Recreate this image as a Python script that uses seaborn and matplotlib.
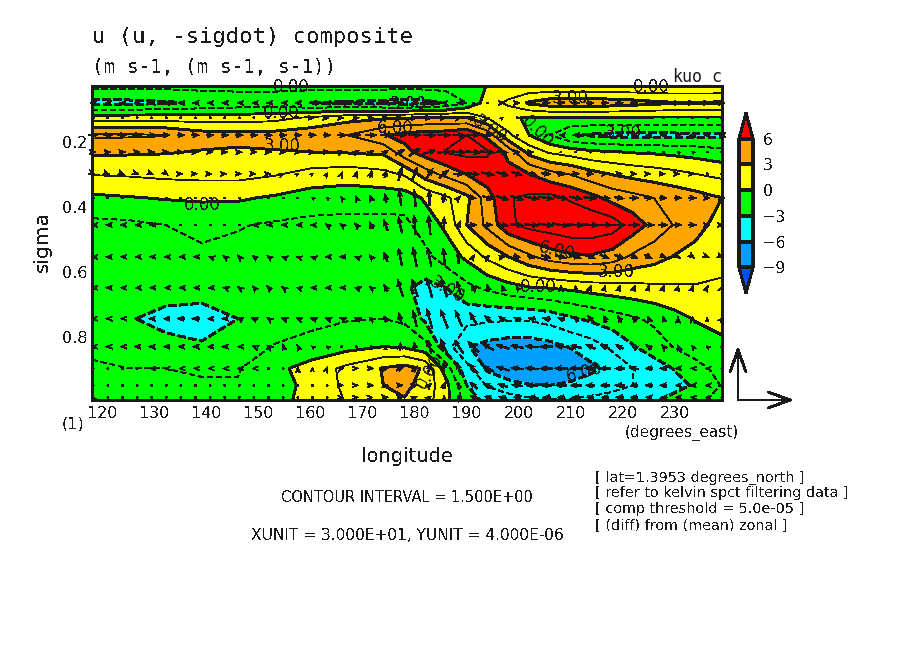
import numpy as np
import matplotlib
matplotlib.use("Agg")
import matplotlib.pyplot as plt
from matplotlib.ticker import MultipleLocator
import seaborn as sns

# contoured u (rows = sigma, columns = lon)
field_lon = [117.9, 125, 132, 139, 146, 153, 160, 167, 174, 178, 182, 186, 190,
             194, 198, 202, 206, 210, 214, 218, 222, 226, 230, 234, 239.1]
field_sigma = [0.028, 0.08, 0.126, 0.179, 0.231, 0.298, 0.372, 0.455, 0.553,
               0.648, 0.743, 0.829, 0.896, 0.948, 0.993]
field_u = [
    [-1.1, -1.1, -1.1, -1.0, -1.0, -1.0, -1.0, -1.0, -1.0, -1.0, -1.0, -0.9, -0.6, 0.05, 0.4, 0.3, 0.2, 0.2, 0.2, 0.2, 0.2, 0.2, 0.2, 0.2, 0.2],
    [-3.4, -3.4, -3.2, -2.8, -2.5, -2.5, -3.0, -3.2, -3.4, -3.5, -3.4, -2.9, -1.5, 0.8, 1.8, 3.2, 3.9, 4.0, 4.0, 3.8, 3.6, 3.3, 3.1, 3.1, 3.2],
    [0.8, 0.8, 0.8, 0.8, 0.8, 1.0, 1.8, 2.5, 2.8, 2.9, 3.1, 3.2, 3.1, 1.5, 0.3, -0.2, -0.2, -0.2, -0.2, -0.2, -0.2, -0.2, -0.2, -0.2, -0.2],
    [4.8, 4.7, 4.6, 3.7, 3.5, 3.6, 3.9, 4.5, 5.9, 6.5, 6.8, 6.9, 7.5, 5.5, 1.8, 0.0, -1.5, -2.9, -3.2, -3.4, -3.4, -3.4, -3.4, -3.3, -3.3],
    [3.3, 3.2, 3.1, 2.9, 2.8, 2.9, 3.0, 3.1, 3.3, 5.5, 6.7, 7.6, 7.9, 7.7, 5.5, 2.5, 1.3, 0.8, 0.3, 0.1, -0.1, -0.2, -0.4, -0.6, -1.0],
    [1.6, 1.7, 1.9, 2.0, 2.0, 1.65, 1.0, 0.7, 1.1, 1.7, 3.8, 5.0, 6.1, 6.8, 6.6, 6.0, 5.0, 4.4, 3.5, 2.9, 2.5, 2.2, 1.9, 1.5, 1.1],
    [-0.3, -0.1, 0.1, 0.2, 0.2, -0.2, -0.7, -0.8, -0.8, -0.8, 0.2, 1.2, 2.6, 5.4, 7.4, 7.8, 8.0, 7.3, 6.5, 5.5, 5.0, 4.5, 4.0, 3.6, 3.0],
    [-1.9, -1.8, -1.5, -1.1, -1.4, -1.7, -1.9, -2.0, -2.0, -1.9, -0.8, 0.3, 3.0, 4.9, 7.2, 8.0, 8.3, 8.7, 8.7, 8.3, 6.8, 5.5, 4.4, 3.7, 2.2],
    [-2.0, -2.0, -1.9, -1.8, -1.9, -2.0, -2.0, -2.0, -2.0, -2.0, -1.9, -0.8, 0.3, 1.8, 3.0, 4.2, 5.2, 5.7, 5.8, 5.3, 4.2, 3.6, 2.9, 2.3, 1.7],
    [-2.0, -2.2, -2.4, -2.4, -2.3, -2.1, -2.0, -2.0, -2.1, -2.8, -3.4, -3.0, -1.9, -1.2, -0.6, -0.1, 0.05, 0.3, 0.6, 0.8, 1.0, 1.2, 1.3, 1.4, 1.4],
    [-2.0, -2.9, -3.4, -3.6, -3.0, -2.4, -1.9, -1.6, -1.5, -1.8, -3.3, -3.8, -4.0, -4.2, -4.3, -4.3, -3.9, -3.2, -2.7, -2.2, -1.7, -1.2, -0.5, 0.1, 0.7],
    [-1.8, -2.0, -2.6, -2.85, -2.4, -1.4, -1.0, -0.5, 0.0, -0.2, -1.0, -3.9, -5.9, -6.5, -6.8, -6.8, -6.5, -5.9, -5.2, -4.2, -3.1, -2.2, -1.4, -0.8, -0.5],
    [-1.3, -1.5, -1.5, -1.6, -1.6, -0.4, 0.6, 1.9, 3.1, 3.6, 2.8, -0.8, -4.0, -6.3, -7.2, -7.4, -7.4, -7.0, -6.3, -5.5, -4.5, -3.8, -2.9, -2.0, -1.0],
    [-0.8, -1.2, -1.3, -1.4, -1.4, -0.9, 0.6, 1.8, 3.0, 3.4, 2.4, 0.5, -3.0, -4.6, -5.4, -5.9, -6.0, -5.7, -5.3, -4.9, -4.5, -4.1, -3.5, -2.8, -1.4],
    [0.1, -0.8, -1.0, -1.1, -1.2, -0.6, 0.6, 1.6, 2.6, 2.9, 2.2, 0.4, -2.2, -3.5, -3.8, -4.2, -4.4, -4.4, -4.2, -4.0, -3.7, -3.2, -2.5, -1.9, -1.0],
]

# vector field on the model grid
arrow_lon = [118.125 + 2.8125 * i for i in range(44)]
arrow_sigma = [0.08, 0.126, 0.179, 0.231, 0.298, 0.372, 0.455, 0.553, 0.648,
               0.743, 0.829, 0.896, 0.948, 0.985]
arrow_u = [
    [-3,-3,-3,-3,-3,-3,-3,-3,-3,-3,-2, -2,-2,-2,-3,-3,-3,-3,-3,-3,-3,-4, -4,-3,-3,-2,-1,1,2,3,4,4,4, 4,4,4,4,4,3,3,3,3,3,3],
    [1,1,1,1,1,1,1,1,1,1,1, 1,1,1,1,2,2,2,3,3,3,3, 3,3,3,3,3,2,1,0,0,0,0, 0,0,0,0,0,0,0,0,0,0,0],
    [5,5,5,5,5,4,4,4,4,4,4, 4,4,4,4,4,4,5,5,6,6,7, 7,7,7,7,7,5,3,1,0,-1,-2, -3,-3,-3,-3,-3,-3,-3,-3,-3,-3,-3],
    [3,3,3,3,3,3,3,3,3,3,3, 3,3,3,3,3,3,3,3,3,3,5, 6,7,7,8,8,8,6,3,2,1,1, 1,0,0,0,0,0,0,-1,-1,-1,-1],
    [2,2,2,2,2,2,2,2,2,2,2, 2,2,2,1,1,1,1,1,1,1,2, 3,4,5,6,7,7,7,6,6,5,5, 4,4,3,3,3,2,2,2,2,1,1],
    [0,0,0,0,0,0,0,0,0,0,0, 0,0,0,-1,-1,-1,-1,-1,-1,-1,-1, -1,0,1,2,3,6,7,7,8,8,8, 7,7,6,5,5,5,4,4,4,3,3],
    [-2,-2,-2,-2,-2,-1,-1,-1,-1,-1,-1, -2,-2,-2,-2,-2,-2,-2,-2,-2,-2,-2, -1,-1,0,2,4,5,7,7,8,8,9, 9,9,8,7,6,6,5,4,4,3,2],
    [-2,-2,-2,-2,-2,-2,-2,-2,-2,-2,-2, -2,-2,-2,-2,-2,-2,-2,-2,-2,-2,-2, -2,-2,-1,0,1,2,3,4,5,5,6, 6,6,5,5,4,4,3,3,2,2,2],
    [-2,-2,-2,-2,-2,-2,-2,-2,-2,-2,-2, -2,-2,-2,-2,-2,-2,-2,-2,-2,-2,-3, -3,-3,-3,-2,-2,-1,-1,-1,0,0,0, 0,1,1,1,1,1,1,1,1,1,1],
    [-2,-2,-2,-3,-3,-3,-4,-4,-3,-3,-3, -3,-2,-2,-2,-2,-2,-2,-2,-2,-2,-2, -2,-3,-4,-4,-4,-4,-4,-4,-4,-4,-4, -3,-3,-2,-2,-2,-1,-1,0,0,0,1],
    [-2,-2,-2,-3,-3,-3,-3,-3,-3,-3,-2, -2,-2,-1,-1,-1,-1,-1,0,0,0,0, -1,-2,-4,-5,-6,-6,-7,-7,-7,-7,-6, -6,-5,-5,-4,-3,-3,-2,-1,-1,-1,0],
    [-1,-1,-1,-1,-2,-2,-2,-2,-2,-2,-2, -2,-1,-1,0,0,1,2,2,3,3,4, 3,2,0,-2,-5,-6,-7,-7,-7,-7,-7, -7,-6,-6,-5,-5,-4,-4,-3,-2,-2,-1],
    [-1,-1,-1,-1,-1,-1,-1,-1,-1,-1,-1, -1,-1,-1,0,0,1,2,2,3,3,3, 3,2,1,-1,-4,-5,-5,-6,-6,-6,-6, -6,-5,-5,-5,-4,-4,-4,-3,-3,-2,-1],
    [0,-1,-1,-1,-1,-1,-1,-1,-1,-1,-1, -1,-1,-1,0,1,1,2,2,2,3,3, 3,2,0,-1,-3,-4,-4,-4,-4,-4,-4, -4,-4,-4,-4,-4,-3,-3,-3,-2,-2,-1],
]
# -sigdot in 1e-7 s-1
arrow_w = [
    [0,0,0,0,0,0,0,0,0,0,0, 0,0,0,0,0,0,0,0,0,0,0, 0,0,0,0,0,0,0,0,0,0,0, 0,0,0,0,0,0,0,0,0,0,0],
    [0,0,0,0,0,0,0,0,0,0,0, 0,0,0,0,0,0,0,0,0,0,0, 0,0,0,1,1,1,1,1,0,0,0, 0,0,0,0,0,0,0,0,0,0,0],
    [0,0,0,0,0,0,0,0,0,0,0, 0,0,0,0,0,0,0,0,0,0,0, 0,0,0,0,0,0,0,0,0,0,0, 0,0,0,0,0,0,0,0,0,0,0],
    [0,0,0,0,0,0,0,0,0,0,0, 0,0,0,0,0,0,1,2,2,3,4, 6,3,1,-1,-1,-1,-1,0,0,0,0, 0,1,1,1,1,1,1,1,1,0,0],
    [-1,-1,-1,-1,-1,-2,0,0,0,0,0, 0,0,1,1,1,2,3,4,5,6,10, 10,8,6,0,-1,-2,-3,-3,-2,-1,-1, 0,0,0,0,0,0,0,0,0,0,0],
    [0,0,0,0,0,0,0,0,0,0,0, 0,0,0,0,1,1,2,3,4,6,12, 13,12,7,3,-1,-3,-3,-3,-2,-2,-2, -2,-1,-1,-1,0,0,0,0,0,0,0],
    [0,0,0,0,0,0,0,0,0,0,0, 0,0,0,0,0,2,2,3,5,8,12, 14,14,12,6,0,0,-1,-1,-1,-2,-2, -1,-1,0,0,0,0,0,0,0,0,0],
    [0,0,0,0,0,0,0,0,1,2,3, 2,2,1,1,1,0,0,1,3,7,13, 14,14,13,10,3,2,1,-1,-1,-2,-2, -2,-3,-3,-3,-3,-3,-2,-2,-2,-1,-1],
    [0,0,0,0,0,0,0,0,0,1,2, 3,3,2,1,0,0,0,1,2,5,13, 13,15,14,10,6,5,4,2,1,1,4, 4,4,4,4,4,4,4,4,4,3,3],
    [0,0,0,0,0,0,0,0,0,0,2, 2,2,1,1,1,1,1,1,2,4,9, 12,15,14,12,9,5,3,2,1,1,2, 3,5,5,5,4,4,4,3,3,2,2],
    [0,0,0,0,0,0,0,0,0,0,0, 1,2,4,3,1,1,0,0,1,2,6, 7,10,12,10,8,5,3,2,1,0,1, 2,3,3,3,3,3,3,3,2,1,1],
    [0,0,0,0,0,0,0,0,0,0,0, 0,0,0,3,2,3,1,0,0,1,3, 4,8,11,9,7,4,3,1,1,0,0, 0,0,0,0,1,0,0,0,0,0,0],
    [0,0,0,0,0,0,0,0,0,0,0, 0,0,0,0,0,0,0,0,0,0,0, 1,3,5,5,5,3,2,1,0,0,0, 0,0,0,0,0,0,0,0,0,0,0],
    [0,0,0,0,0,0,0,0,0,0,0, 0,0,0,0,0,0,0,0,0,0,0, 2,2,3,3,3,2,1,0,0,0,0, 0,0,0,0,0,0,0,0,0,0,0],
]

fill_levels = [-9, -6, -3, 0, 3, 6]
thin_levels = [-7.5, -4.5, -1.5, 1.5, 4.5, 7.5]
fill_colors = ["#0050ff", "#00a0ff", "#00ffff", "#00ff00", "#ffff00", "#ffa500", "#ff0000"]

label_text = ["0.00", "3.00", "0.00", "3.00", "6.00", "3.00", "0.00", "3.00", "0.00",
              "3.00", "0.00", "6.00", "3.00", "0.00", "3.00", "6.00", "0.00"]
label_lon = [156.3, 178.7, 154.4, 154.4, 176.2, 194.4, 203.5, 209.8, 225.4,
             220.0, 139.2, 207.3, 218.7, 203.7, 186.2, 212.7, 182.9]
label_sigma = [0.031, 0.083, 0.111, 0.212, 0.157, 0.163, 0.169, 0.065, 0.031,
               0.172, 0.393, 0.534, 0.599, 0.645, 0.654, 0.909, 0.905]
label_rot = [0, 0, 0, 0, 0, -35, -45, 0, 0, 0, 0, -12, 0, 0, -30, 15, 60]

W, H = 904, 654

def fx(x):
    return x / W

def fy(y):
    return 1 - y / H


sns.set_theme(style="ticks", rc={"axes.linewidth": 2, "axes.edgecolor": "k", "text.color": "k",
                                 "xtick.color": "k", "ytick.color": "k",
                                 "lines.antialiased": False, "patch.antialiased": False,
                                 "text.antialiased": False})
plt.rcParams["font.family"] = "DejaVu Sans"
palette = sns.color_palette(fill_colors)

fig = plt.figure(figsize=(W / 100, H / 100), dpi=100)
ax = fig.add_axes([fx(92), fy(400), 630 / W, 314 / H])

Z = np.array(field_u)
cf = ax.contourf(field_lon, field_sigma, Z, levels=fill_levels, colors=palette,
                 extend="both", antialiased=False)
ax.contour(field_lon, field_sigma, Z, levels=fill_levels, colors="k", linewidths=1.4,
           negative_linestyles=(0, (4, 2)))
ax.contour(field_lon, field_sigma, Z, levels=thin_levels, colors="k", linewidths=0.6,
           negative_linestyles=(0, (7, 4)))

# arrows: 30 m/s is 55 px, 4e-6 s-1 is 53 px, they run past the frame like the original
X, Y = np.meshgrid(arrow_lon, arrow_sigma)
U = np.array(arrow_u) * 55 / 30
V = np.array(arrow_w) * 53 / 40
ax.quiver(X, Y, U, V, angles="uv", scale_units="dots", units="dots", scale=1, width=1.4,
          headwidth=3.6, headlength=4.6, headaxislength=3.8, minshaft=0.6, minlength=1.5,
          pivot="mid", color="k", clip_on=False, zorder=4)

for txt, lo, si, rot in zip(label_text, label_lon, label_sigma, label_rot):
    ax.text(lo, si, txt, fontsize=12, rotation=rot, ha="center", va="center", zorder=5)

ax.set_xlim(117.9, 239.1)
ax.set_ylim(0.993, 0.028)
ax.set_xticks(range(120, 231, 10))
ax.set_yticks([0.2, 0.4, 0.6, 0.8])
ax.xaxis.set_minor_locator(MultipleLocator(2))
ax.yaxis.set_minor_locator(MultipleLocator(0.05))
ax.tick_params(which="major", direction="in", length=6, width=1.5, top=True, right=True,
               labelsize=11.5)
ax.tick_params(which="minor", direction="in", length=2.5, width=1, top=True, right=True)
ax.tick_params(axis="x", which="major", pad=4)
sns.despine(ax=ax, top=False, right=False)

# colourbar on its own axes, the axes include both end triangles
cax = fig.add_axes([fx(739), fy(293), 14 / W, 180 / H])
cb = fig.colorbar(cf, cax=cax, extend="both", extendfrac=0.2, drawedges=True, ticks=fill_levels)
cb.outline.set_linewidth(1.5)
cb.outline.set_edgecolor("k")
cb.dividers.set_linewidth(1.5)
cb.dividers.set_color("k")
cax.tick_params(length=0, labelsize=11.5, pad=7)

# vector key
key = dict(arrowstyle="->,head_length=1.3,head_width=0.47", lw=1.4, color="k", shrinkA=0, shrinkB=0)
ax.annotate("", xy=(793, H - 400), xytext=(738, H - 400), xycoords="figure pixels",
            textcoords="figure pixels", arrowprops=key, annotation_clip=False)
ax.annotate("", xy=(738, H - 347), xytext=(738, H - 400), xycoords="figure pixels",
            textcoords="figure pixels", arrowprops=key, annotation_clip=False)

fig.text(fx(92), fy(37), "u (u, -sigdot) composite", fontsize=15.9, family="DejaVu Sans Mono", va="center")
fig.text(fx(92), fy(67), "(m s-1, (m s-1, s-1))", fontsize=13.9, family="DejaVu Sans Mono", va="center")
fig.text(fx(722), fy(77), "kuo_c", fontsize=12, family="DejaVu Sans Mono", ha="right", va="center",
         antialiased=True)
fig.text(fx(42), fy(242), "sigma", fontsize=14.5, rotation=90, ha="center", va="center")
fig.text(fx(407), fy(457), "longitude", fontsize=14, ha="center", va="center")
fig.text(fx(73), fy(424), "(1)", fontsize=11.5, ha="center", va="center")
fig.text(fx(625), fy(433), "(degrees_east)", fontsize=11, va="center")
fig.text(fx(407), fy(498), "CONTOUR INTERVAL = 1.500E+00", fontsize=10.5, ha="center", va="center")
fig.text(fx(407), fy(535), "XUNIT = 3.000E+01, YUNIT = 4.000E-06", fontsize=11.05, ha="center", va="center")
notes = ["[ lat=1.3953 degrees_north ]", "[ refer to kelvin spct filtering data ]",
         "[ comp threshold = 5.0e-05 ]", "[ (diff) from (mean) zonal ]"]
for yp, note in zip([478, 493, 509, 526], notes):
    fig.text(fx(595), fy(yp), note, fontsize=10.35, va="center")

fig.savefig("out.png", dpi=100)
